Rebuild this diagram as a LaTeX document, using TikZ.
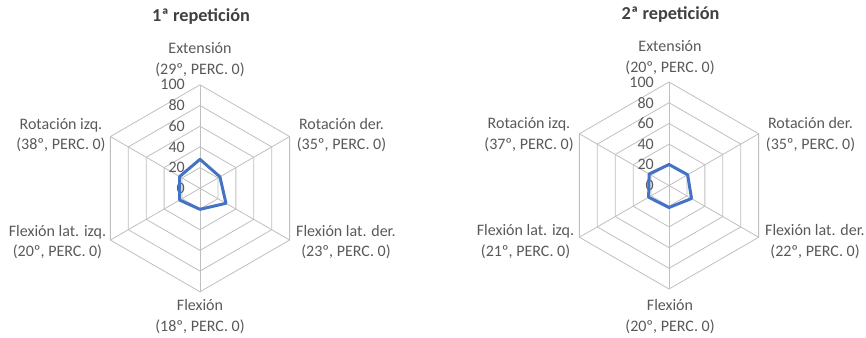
\documentclass[tikz,border=0pt]{standalone}
\usepackage{fontspec}
\setmainfont{Carlito}
\definecolor{gridc}{HTML}{BFBFBF}
\definecolor{txt}{HTML}{595959}
\definecolor{ttl}{HTML}{404040}
\definecolor{serie}{HTML}{4472C4}
\tikzset{
  gridline/.style={draw=gridc, line width=0.6pt},
  lbl/.style={text=txt, font=\fontsize{12}{15.3}\selectfont, align=center, inner sep=0pt},
  ticklbl/.style={text=txt, font=\fontsize{12}{14}\selectfont, anchor=east, inner sep=0pt},
  ttlst/.style={text=ttl, font=\fontsize{13.7}{16}\selectfont\bfseries, inner sep=0pt},
  serieline/.style={draw=serie, line width=2.25pt, line join=round}
}
\newcommand\radargrid{%
  \foreach \r in {20.7,41.4,62.1,82.8,103.5}
    \draw[gridline] (-90:\r) -- (-30:\r) -- (30:\r) -- (90:\r) -- (150:\r) -- (210:\r) -- cycle;
  \foreach \a in {-90,-30,30,90,150,210}
    \draw[gridline] (0,0) -- (\a:103.5);
  \foreach \v in {0,20,40,60,80,100}
    \node[ticklbl] at (-15,-1.035*\v) {\v};
}
\begin{document}
\begin{tikzpicture}[x=0.75pt,y=-0.75pt]
\useasboundingbox (0,0) rectangle (866,337);
% left chart
\begin{scope}[shift={(200,188.3)}]
  \coordinate (c1) at (0,0);
  \radargrid
  \draw[serieline] (-90:29) -- (-30:23) -- (30:30) -- (90:21) -- (150:23.5) -- (210:23.5) -- cycle;
\end{scope}
\node[ttlst] (t1) at (201,17) {1ª repetición};
\node[lbl] (ext1) at (200,59.5) {Extensión\\(29º, PERC. 0)};
\node[lbl] (rotizq1) at (61,135) {Rotación izq.\\(38º, PERC. 0)};
\node[lbl] (rotder1) at (341.5,135) {Rotación der.\\(35º, PERC. 0)};
\node[lbl] (flizq1) at (57.5,242) {Flexión lat. izq.\\(20º, PERC. 0)};
\node[lbl] (flder1) at (346,242) {Flexión lat. der.\\(23º, PERC. 0)};
\node[lbl] (flex1) at (200,316.7) {Flexión\\(18º, PERC. 0)};
% right chart
\begin{scope}[shift={(669,185.5)}]
  \coordinate (c2) at (0,0);
  \radargrid
  \draw[serieline] (-90:21) -- (-30:21.5) -- (30:26) -- (90:22) -- (150:23.5) -- (210:23) -- cycle;
\end{scope}
\node[ttlst] (t2) at (670.5,15) {2ª repetición};
\node[lbl] (ext2) at (670,57.5) {Extensión\\(20º, PERC. 0)};
\node[lbl] (rotizq2) at (529,134.5) {Rotación izq.\\(37º, PERC. 0)};
\node[lbl] (rotder2) at (810.5,134.5) {Rotación der.\\(35º, PERC. 0)};
\node[lbl] (flizq2) at (525.5,241.7) {Flexión lat. izq.\\(21º, PERC. 0)};
\node[lbl] (flder2) at (815,241.7) {Flexión lat. der.\\(22º, PERC. 0)};
\node[lbl] (flex2) at (670,316.5) {Flexión\\(20º, PERC. 0)};
\end{tikzpicture}
\end{document}
